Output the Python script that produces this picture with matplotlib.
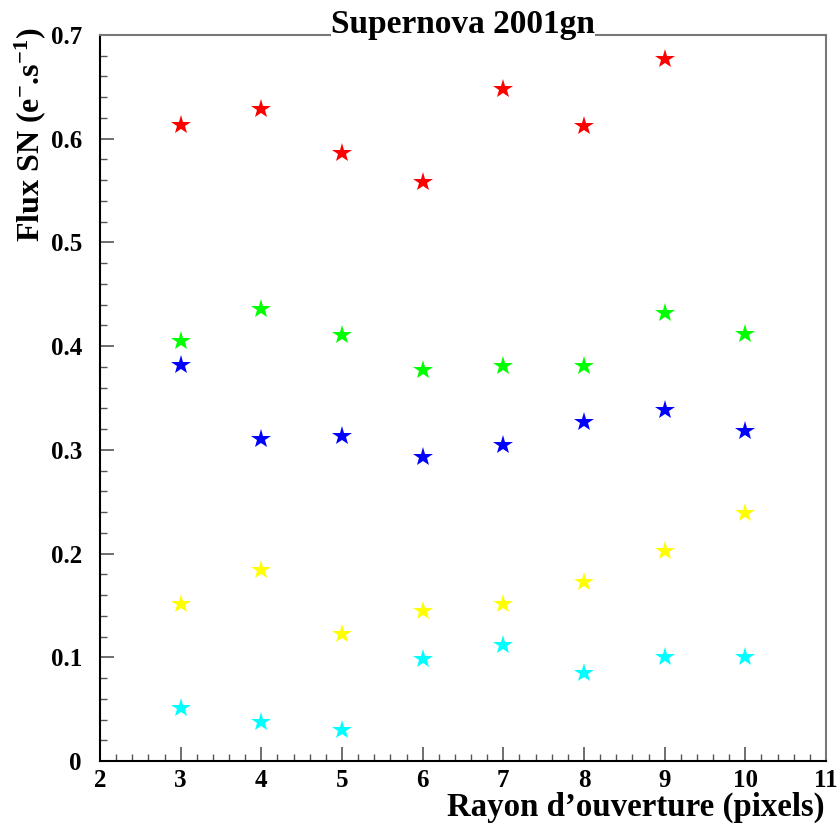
import matplotlib
matplotlib.use("Agg")
import matplotlib.pyplot as plt
from matplotlib.ticker import MultipleLocator

plt.rcParams['font.family'] = ['Liberation Serif', 'DejaVu Serif']
plt.rcParams['font.weight'] = 'bold'
plt.rcParams['mathtext.fontset'] = 'custom'
plt.rcParams['mathtext.rm'] = 'Liberation Serif:bold'
plt.rcParams['mathtext.bf'] = 'Liberation Serif:bold'
plt.rcParams['mathtext.it'] = 'Liberation Serif:bold:italic'

# aperture radius (pixels)
rayon = [3, 4, 5, 6, 7, 8, 9, 10]

# SN flux for each aperture, one series per colour
flux_red = [0.613, 0.629, 0.586, 0.558, 0.648, 0.612, 0.677]
flux_green = [0.405, 0.436, 0.411, 0.377, 0.381, 0.381, 0.432, 0.412]
flux_blue = [0.382, 0.310, 0.313, 0.293, 0.305, 0.327, 0.338, 0.318]
flux_yellow = [0.151, 0.184, 0.122, 0.145, 0.151, 0.173, 0.202, 0.239]
flux_cyan = [0.051, 0.038, 0.030, 0.098, 0.112, 0.085, 0.100, 0.100]

series = [
    (flux_red, '#ff0000'),
    (flux_green, '#00ff00'),
    (flux_blue, '#0000ff'),
    (flux_yellow, '#ffff00'),
    (flux_cyan, '#00ffff'),
]

fig = plt.figure(figsize=(8.39, 8.25), dpi=100)
ax = fig.add_axes([100/839, 1-761/825, (826-100)/839, (761-35)/825])

for vals, col in series:
    ax.plot(rayon[:len(vals)], vals, linestyle='none', marker='*',
            markersize=15, color=col, markeredgewidth=0)

ax.set_xlim(2, 11)
ax.set_ylim(0, 0.7)
ax.xaxis.set_major_locator(MultipleLocator(1))
ax.xaxis.set_minor_locator(MultipleLocator(0.2))
ax.yaxis.set_major_locator(MultipleLocator(0.1))
ax.yaxis.set_minor_locator(MultipleLocator(0.02))
ax.yaxis.set_major_formatter(matplotlib.ticker.FuncFormatter(
    lambda v, p: '0' if abs(v) < 1e-9 else ('%.1f' % v)))

ax.tick_params(which='both', direction='in', top=False, right=False,
               color='#555555', labelsize=18)
ax.tick_params(which='major', length=10, width=1.2)
ax.tick_params(which='minor', length=5, width=1.0)
ax.tick_params(axis='y', pad=13)
ax.tick_params(axis='x', pad=6)
for lab in ax.get_xticklabels() + ax.get_yticklabels():
    lab.set_fontweight('bold')

ax.spines['left'].set_color('black')
ax.spines['bottom'].set_color('black')
ax.spines['top'].set_color('#777777')
ax.spines['right'].set_color('#777777')
for s in ax.spines.values():
    s.set_linewidth(1.5)

fig.text(463/839, 1-33/825, 'Supernova 2001gn', ha='center', va='baseline',
         fontsize=24, fontweight='bold',
         bbox=dict(facecolor='white', edgecolor='none', pad=0))
fig.text(30/839, 1-28/825, r'Flux SN (e$^{\mathrm{-}}$.s$^{\mathrm{-1}}$)',
         rotation=90, ha='center', va='top', fontsize=23, fontweight='bold')
fig.text(825/839, 2/825, 'Rayon d\u2019ouverture (pixels)', ha='right',
         va='bottom', fontsize=23.7, fontweight='bold')

plt.savefig('out.png', dpi=100)
